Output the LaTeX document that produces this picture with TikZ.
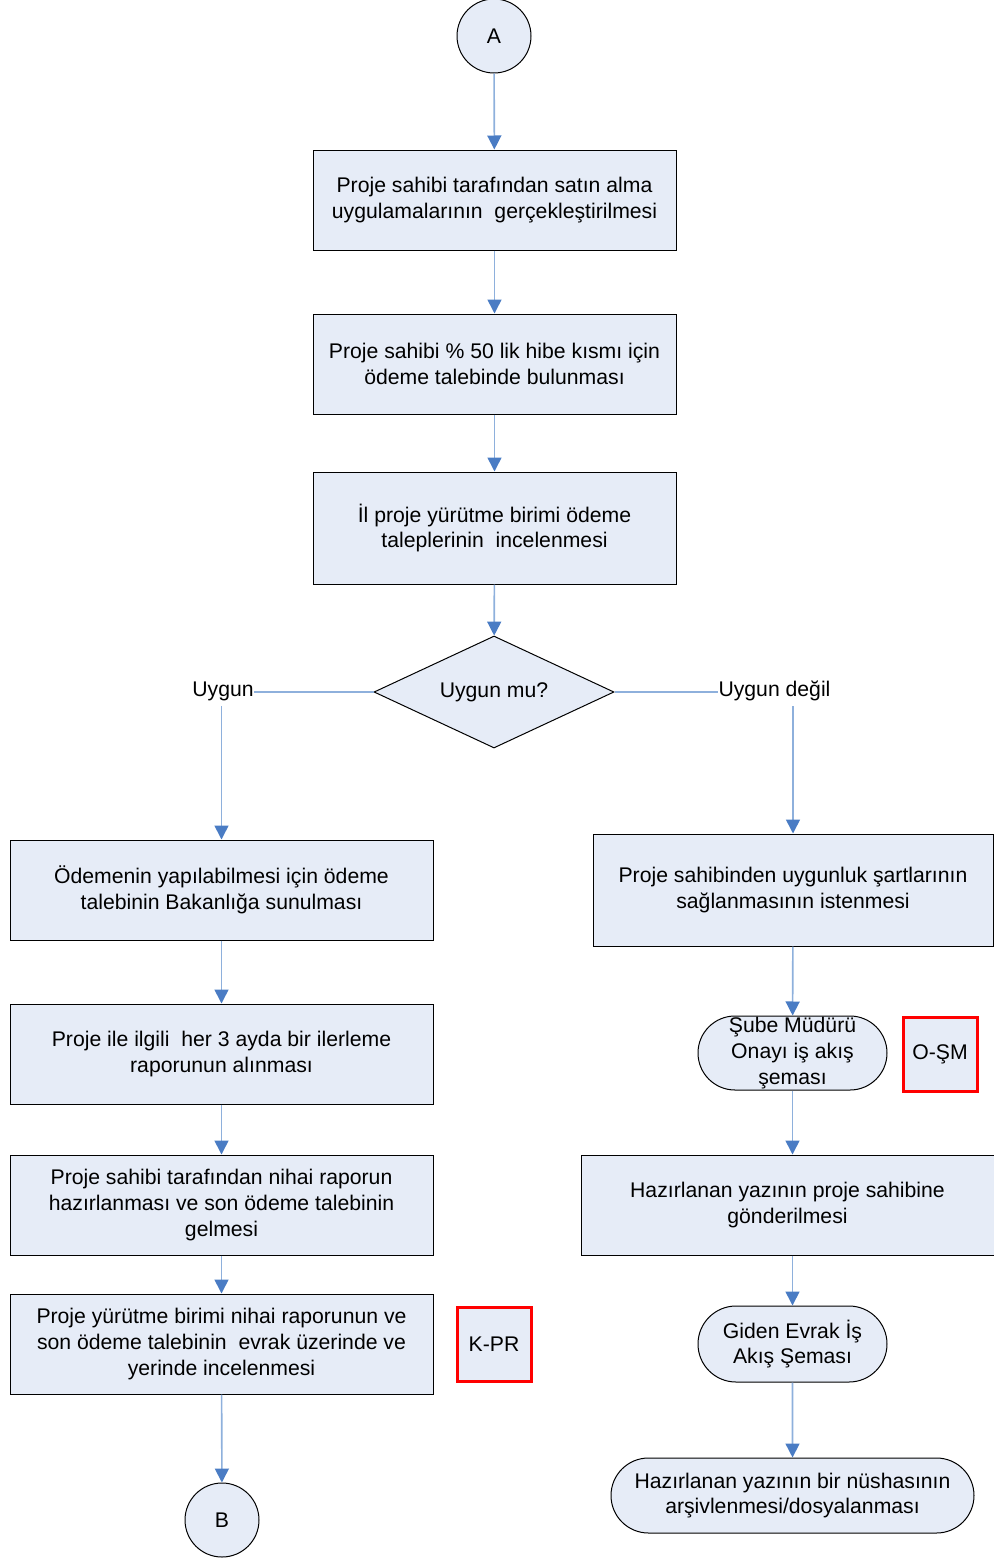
\documentclass[tikz,border=0pt]{standalone}
\usepackage{fontspec}
\setmainfont{Liberation Sans}
\usetikzlibrary{shapes.geometric,shapes.misc,arrows.meta}
\definecolor{boxfill}{HTML}{E6ECF7}
\definecolor{conn}{HTML}{8EB0DC}
\definecolor{tip}{HTML}{4A7CC4}
\begin{document}
\begin{tikzpicture}[x=0.5pt,y=-0.5pt,
  every node/.style={font=\fontsize{10.6pt}{12.8pt}\selectfont, align=center, inner sep=0pt},
  proc/.style={draw=black, line width=0.5pt, fill=boxfill, rectangle},
  term/.style={draw=black, line width=0.5pt, fill=boxfill, rounded rectangle},
  conncircle/.style={draw=black, line width=0.5pt, fill=boxfill, circle, minimum size=37pt},
  refbox/.style={draw=red, line width=1.5pt, fill=boxfill, rectangle, minimum width=37pt, minimum height=37pt},
  dec/.style={draw=black, line width=0.5pt, fill=boxfill, diamond, aspect=2.14, minimum width=120pt, minimum height=56pt},
  flow/.style={draw=conn, line width=0.8pt, -{Triangle[width=7pt,length=7pt,color=tip]}},
  plain/.style={draw=conn, line width=0.8pt}
]
\useasboundingbox (0,0) rectangle (994,1558);

\node[conncircle] (A) at (494,36) {A};
\node[proc, minimum width=181.5pt, minimum height=50pt] (p1) at (494.5,200) {Proje sahibi tarafından satın alma\\uygulamalarının\ \ gerçekleştirilmesi};
\node[proc, minimum width=181.5pt, minimum height=50pt] (p2) at (494.5,364) {Proje sahibi \% 50 lik hibe kısmı için\\ödeme talebinde bulunması};
\node[proc, minimum width=181.5pt, minimum height=56pt] (p3) at (494.5,528) {İl proje yürütme birimi ödeme\\taleplerinin\ \ incelenmesi};
\node[dec] (d) at (494,692) {Uygun mu?};

\node (uy) at (223,691) {Uygun};
\node (uyd) at (774.5,691) {Uygun değil};

\node[proc, minimum width=211.5pt, minimum height=50pt] (l1) at (221.5,890) {Ödemenin yapılabilmesi için ödeme\\talebinin Bakanlığa sunulması};
\node[proc, minimum width=211.5pt, minimum height=50pt] (l2) at (221.5,1054) {Proje ile ilgili\ \ her 3 ayda bir ilerleme\\raporunun alınması};
\node[proc, minimum width=211.5pt, minimum height=50pt] (l3) at (221.5,1205) {Proje sahibi tarafından nihai raporun\\hazırlanması ve son ödeme talebinin\\gelmesi};
\node[proc, minimum width=211.5pt, minimum height=50pt] (l4) at (221.5,1344) {Proje yürütme birimi nihai raporunun ve\\son ödeme talebinin\ \ evrak üzerinde ve\\yerinde incelenmesi};
\node[refbox] (kpr) at (494,1344) {K-PR};
\node[conncircle] (B) at (222,1520) {B};

\node[proc, minimum width=200pt, minimum height=56pt] (r1) at (793,890) {Proje sahibinden uygunluk şartlarının\\sağlanmasının istenmesi};
\node[term, minimum width=94.5pt, minimum height=37pt] (r2) at (792.5,1053) {Şube Müdürü\\Onayı iş akış\\şeması};
\node[refbox] (osm) at (940,1054) {O-ŞM};
\node[proc, minimum width=206.5pt, minimum height=50pt] (r3) at (787.5,1205) {Hazırlanan yazının proje sahibine\\gönderilmesi};
\node[term, minimum width=94.5pt, minimum height=38pt] (r4) at (792.5,1344) {Giden Evrak İş\\Akış Şeması};
\node[term, minimum width=181.5pt, minimum height=37.5pt] (r5) at (792.5,1495.5) {Hazırlanan yazının bir nüshasının\\arşivlenmesi/dosyalanması};

\draw[flow] (A) -- (p1);
\draw[flow] (p1) -- (p2);
\draw[flow] (p2) -- (p3);
\draw[flow] (p3) -- (d);
\draw[plain] (d.west) -- (d.west -| uy.east);
\draw[plain] (d.east) -- (d.east -| uyd.west);
\draw[flow] (l1.north |- uy.south) ++(0,5) -- (l1.north);
\draw[flow] (r1.north |- uyd.south) ++(0,5) -- (r1.north);
\draw[flow] (l1) -- (l2);
\draw[flow] (l2) -- (l3);
\draw[flow] (l3) -- (l4);
\draw[flow] (l4) -- (B);
\draw[flow] (r1) -- (r2);
\draw[flow] (r2.south) -- (r2.south |- r3.north);
\draw[flow] (r2.south |- r3.south) -- (r4.north);
\draw[flow] (r4) -- (r5);
\end{tikzpicture}
\end{document}
